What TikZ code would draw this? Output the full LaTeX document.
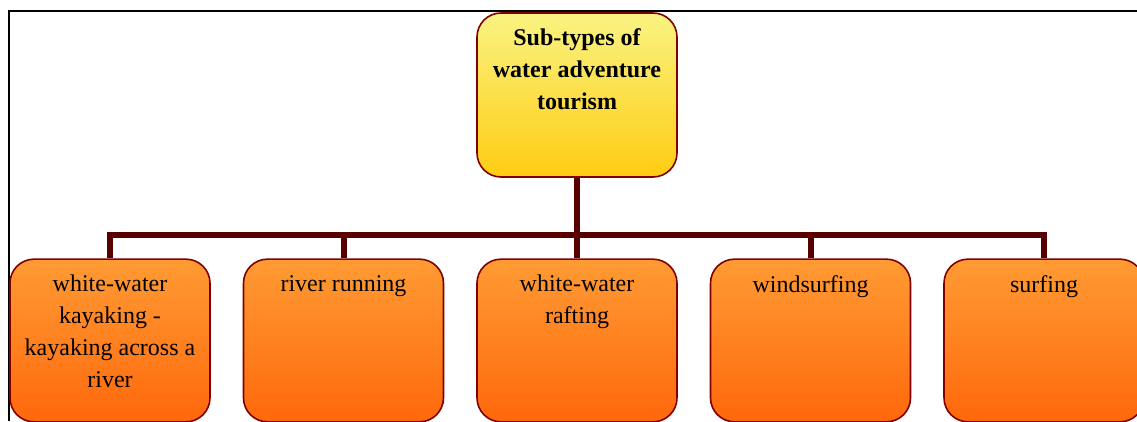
\documentclass[tikz,border=0pt]{standalone}
\usepackage{fontspec}
\setmainfont{Liberation Serif}
\usepackage{xcolor}
\usetikzlibrary{positioning}
\definecolor{boxline}{RGB}{128,0,0}
\definecolor{linkcol}{RGB}{88,0,0}
\definecolor{rootTop}{RGB}{250,243,130}
\definecolor{rootBot}{RGB}{255,204,18}
\definecolor{kidTop}{RGB}{255,155,52}
\definecolor{kidBot}{RGB}{255,104,12}

\begin{document}
\begin{tikzpicture}
	[x=0.75pt,y=-0.75pt,
	box/.style={rectangle,rounded corners=18pt,draw=boxline,line width=1.2pt,minimum width=150pt,inner sep=0pt},
	rootbox/.style={box,minimum height=123pt,top color=rootTop,bottom color=rootBot},
	kidbox/.style={box,minimum height=122pt,top color=kidTop,bottom color=kidBot},
	boxtext/.style={inner sep=0pt,align=center,font=\fontsize{18}{24}\selectfont},
	roottext/.style={boxtext,font=\fontsize{18}{24}\selectfont\bfseries},
	link/.style={draw=linkcol,line width=4.5pt},
	frame/.style={draw=black,line width=1.5pt}]
	\useasboundingbox (0,0) rectangle (1137,421);
	%%%%% FRAME
	\draw[frame] (9,421) -- (9,11) -- (1137,11);
	%%%%% ROOT
	\node[rootbox] (root) at (577,95) {};
	\node[roottext,below=12pt of root.north] (roottxt) {Sub-types of\\water adventure\\tourism};
	\coordinate (bus) at (577,235);
	\path[link] (root.south) -- (bus);
	%%%%% CHILDREN
	\foreach \i/\cx/\txt in {1/110/{white-water\\kayaking -\\kayaking across a\\river},2/343.5/{river running},3/577/{white-water\\rafting},4/810.5/{windsurfing},5/1044/{surfing}}
	{
	\node[kidbox] (kid\i) at (\cx,340.5) {};
	\node[boxtext,below=12.5pt of kid\i.north] (kidtxt\i) {\txt};
	\path[link] (bus) -| (kid\i.north);
	};
\end{tikzpicture}
\end{document}
